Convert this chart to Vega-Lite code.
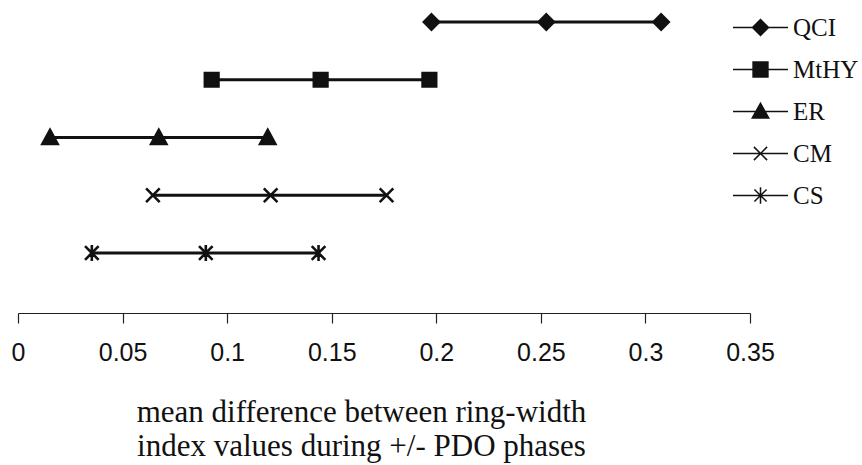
{
  "$schema": "https://vega.github.io/schema/vega-lite/v6.json",
  "width": 732,
  "height": 313,
  "autosize": {"type": "none"},
  "padding": {"left": 18, "top": 0, "right": 112, "bottom": 152},
  "background": "white",
  "config": {"view": {"stroke": null}},
  "data": {
    "values": [
      {"series": "QCI", "value": 0.1977},
      {"series": "QCI", "value": 0.2526},
      {"series": "QCI", "value": 0.3075},
      {"series": "MtHY", "value": 0.0926},
      {"series": "MtHY", "value": 0.1447},
      {"series": "MtHY", "value": 0.1967},
      {"series": "ER", "value": 0.0153},
      {"series": "ER", "value": 0.0673},
      {"series": "ER", "value": 0.1194},
      {"series": "CM", "value": 0.0645},
      {"series": "CM", "value": 0.1208},
      {"series": "CM", "value": 0.1762},
      {"series": "CS", "value": 0.0353},
      {"series": "CS", "value": 0.0898},
      {"series": "CS", "value": 0.1437}
    ]
  },
  "encoding": {
    "x": {
      "field": "value",
      "type": "quantitative",
      "scale": {"domain": [0, 0.35], "nice": false, "zero": false},
      "axis": {
        "values": [0, 0.05, 0.1, 0.15, 0.2, 0.25, 0.3, 0.35],
        "format": "~g",
        "grid": false,
        "domainColor": "#222",
        "domainWidth": 1.2,
        "tickColor": "#222",
        "tickWidth": 1.2,
        "tickSize": 10,
        "labelFont": "Liberation Sans",
        "labelFontSize": 25,
        "labelColor": "#111",
        "labelPadding": 17,
        "labelFlush": false,
        "title": ["mean difference between ring-width", "index values during +/- PDO phases"],
        "titleFont": "Liberation Serif",
        "titleFontSize": 31,
        "titleFontWeight": "normal",
        "titleColor": "#111",
        "titleLineHeight": 34,
        "titleBaseline": "alphabetic",
        "titleAlign": "center",
        "titleX": 343,
        "titleY": 108
      }
    },
    "y": {
      "field": "series",
      "type": "nominal",
      "scale": {"type": "point", "domain": ["QCI", "MtHY", "ER", "CM", "CS"], "range": [22, 253], "padding": 0},
      "axis": null
    }
  },
  "layer": [
    {
      "mark": {"type": "line", "color": "#111", "strokeWidth": 2.8},
      "encoding": {"detail": {"field": "series"}}
    },
    {
      "mark": {"type": "point", "filled": true, "color": "#111", "stroke": "#111", "strokeWidth": 2.6, "size": 256, "opacity": 1},
      "encoding": {
        "shape": {
          "field": "series",
          "type": "nominal",
          "scale": {
            "domain": ["QCI", "MtHY", "ER", "CM", "CS"],
            "range": [
              "M0,-0.95L0.95,0L0,0.95L-0.95,0Z",
              "M-0.85,-0.85H0.85V0.85H-0.85Z",
              "M0,-0.95L0.95,0.8H-0.95Z",
              "M-0.85,-0.85L0.85,0.85M-0.85,0.85L0.85,-0.85",
              "M-0.85,-0.85L0.85,0.85M-0.85,0.85L0.85,-0.85M0,-1V1"
            ]
          },
          "legend": null
        }
      }
    },
    {
      "mark": {"type": "point", "filled": true, "color": "#111", "stroke": "#111", "strokeWidth": 2.6, "size": 3025, "opacity": 0},
      "encoding": {
        "shape": {
          "field": "series",
          "type": "nominal",
          "scale": {
            "domain": ["QCI", "MtHY", "ER", "CM", "CS"],
            "range": [
              "M-1,0H1M0,-0.29L0.29,0L0,0.29L-0.29,0Z",
              "M-1,0H1M-0.27,-0.27H0.27V0.27H-0.27Z",
              "M-1,0H1M0,-0.3L0.3,0.24H-0.3Z",
              "M-1,0H1M-0.24,-0.24L0.24,0.24M-0.24,0.24L0.24,-0.24",
              "M-1,0H1M-0.22,-0.22L0.22,0.22M-0.22,0.22L0.22,-0.22M0,-0.3V0.3"
            ]
          },
          "legend": {
            "title": null,
            "orient": "none",
            "legendX": 714,
            "legendY": -1,
            "symbolSize": 3025,
            "symbolOpacity": 1,
            "labelFont": "Liberation Serif",
            "labelFontSize": 25,
            "labelColor": "#111",
            "labelOffset": 4,
            "rowPadding": 0,
            "encode": {
              "symbols": {
                "update": {
                  "fill": {"value": "#111"},
                  "stroke": {"value": "#111"},
                  "strokeWidth": {"value": 2.6}
                }
              }
            }
          }
        }
      }
    }
  ],
  "resolve": {"scale": {"shape": "independent"}, "legend": {"shape": "independent"}}
}
